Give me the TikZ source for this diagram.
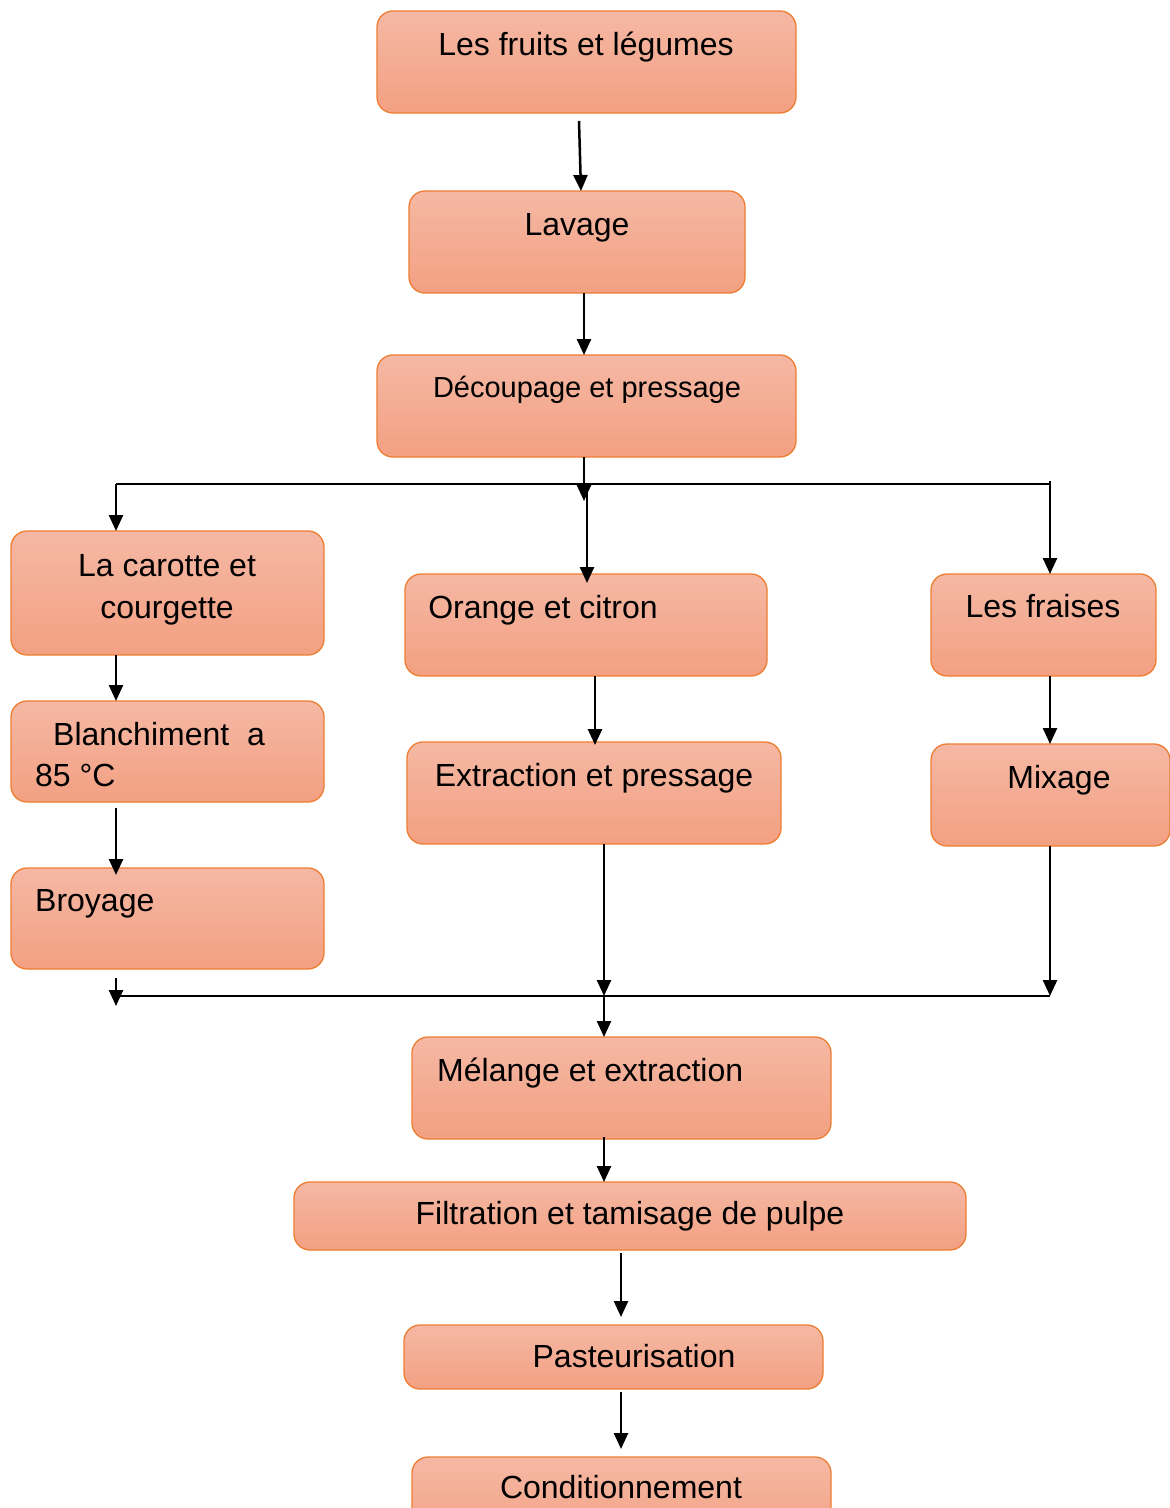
\documentclass[tikz,border=0pt]{standalone}
\usepackage{fontspec}
\setmainfont{Liberation Sans}
\usetikzlibrary{arrows.meta,calc}
\definecolor{ftop}{RGB}{245,184,164}
\definecolor{fbot}{RGB}{243,160,130}
\definecolor{boxline}{RGB}{237,125,49}
\tikzset{
  box/.style={draw=boxline, line width=1.3pt, rounded corners=16pt, top color=ftop, bottom color=fbot, inner sep=0pt, outer sep=0pt},
  txt/.style={font=\fontsize{32}{38}\selectfont, inner sep=0pt, anchor=base},
  txtl/.style={txt, anchor=base west},
  ln/.style={line width=2.5pt, black},
  arr/.style={ln, -{Triangle[width=14pt,length=16pt]}}
}
\begin{document}
\begin{tikzpicture}[x=1pt,y=-1pt]
\useasboundingbox (0,0) rectangle (1170,1508);
\clip (0,0) rectangle (1170,1508);
\fill[white] (0,0) rectangle (1170,1508);

% boxes
\node[box, minimum width=419pt, minimum height=102pt] (b1) at (586.5,62) {};
\node[box, minimum width=336pt, minimum height=102pt] (b2) at (577,242) {};
\node[box, minimum width=419pt, minimum height=102pt] (b3) at (586.5,406) {};
\node[box, minimum width=313pt, minimum height=124pt] (b4) at (167.5,593) {};
\node[box, minimum width=362pt, minimum height=102pt] (b5) at (586,625) {};
\node[box, minimum width=225pt, minimum height=102pt] (b6) at (1043.5,625) {};
\node[box, minimum width=313pt, minimum height=101pt] (b7) at (167.5,751.5) {};
\node[box, minimum width=374pt, minimum height=102pt] (b8) at (594,793) {};
\node[box, minimum width=239pt, minimum height=102pt] (b9) at (1050.5,795) {};
\node[box, minimum width=313pt, minimum height=101pt] (b10) at (167.5,918.5) {};
\node[box, minimum width=419pt, minimum height=102pt] (b11) at (621.5,1088) {};
\node[box, minimum width=672pt, minimum height=68pt] (b12) at (630,1216) {};
\node[box, minimum width=419pt, minimum height=64pt] (b13) at (613.5,1357) {};
\node[box, minimum width=419pt, minimum height=90pt] (b14) at (621.5,1502) {};

% texts
\node[txt] (t1) at (586,55) {Les fruits et légumes};
\node[txt] (t2) at (577,235) {Lavage};
\node[txt, font=\fontsize{29}{35}\selectfont] (t3) at (587,397) {Découpage et pressage};
\node[txt] (t4a) at (167,576) {La carotte et};
\node[txt] (t4b) at (167,618) {courgette};
\node[txt] (t5) at (543,618) {Orange et citron};
\node[txt] (t6) at (1043,617) {Les fraises};
\node[txtl] (t7a) at (53,745) {Blanchiment\ \ a};
\node[txtl] (t7b) at (35,786) {85 °C};
\node[txt] (t8) at (594,786) {Extraction et pressage};
\node[txt] (t9) at (1059,788) {Mixage};
\node[txtl] (t10) at (35,911) {Broyage};
\node[txtl] (t11) at (437,1081) {Mélange et extraction};
\node[txt] (t12) at (630,1224) {Filtration et tamisage de pulpe};
\node[txt] (t13) at (634,1367) {Pasteurisation};
\node[txt] (t14) at (621,1498) {Conditionnement};

% junction coordinates
\coordinate (jL) at (116,484);
\coordinate (jR) at (1050,484);
\coordinate (jM) at (587,487);
\coordinate (m1) at (584,501);
\coordinate (c58) at (595,0);
\coordinate (c8) at (604,0);
\coordinate (c12) at (621,0);
\coordinate (kL) at (116,996);
\coordinate (kR) at (1050,996);
\coordinate (kM) at (604,996);
\coordinate (k10) at (116,1006);

% connectors
\draw[arr] ([xshift=-7.5pt,yshift=-8pt]b1.south) -- ([xshift=4pt]b2.north);
\draw[arr] ([xshift=7pt]b2.south) -- ([xshift=7pt]b2.south |- b3.north);
\draw[arr] ([xshift=-2.5pt]b3.south) -- (m1);
\draw[ln] (jL) -- (jR);
\draw[ln] ($(jR)+(0,-3)$) -- (jR);
\draw[arr] (jL) -- (jL |- b4.north);
\draw[arr] (jM) -- ($(jM |- b5.north)+(0,9)$);
\draw[arr] ($(jR)+(0,-3)$) -- (jR |- b6.north);
\draw[arr] (jL |- b4.south) -- (jL |- b7.north);
\draw[arr] ($(jL |- b7.south)+(0,6)$) -- ($(jL |- b10.north)+(0,7)$);
\draw[arr] (c58 |- b5.south) -- ($(c58 |- b8.north)+(0,3)$);
\draw[arr] (jR |- b6.south) -- (jR |- b9.north);
\draw[arr] ($(jL |- b10.south)+(0,9)$) -- (k10);
\draw[ln] (kL) -- (kR);
\draw[arr] (c8 |- b8.south) -- (kM);
\draw[arr] (jR |- b9.south) -- (kR);
\draw[arr] (kM) -- (kM |- b11.north);
\draw[arr] ($(c8 |- b11.south)+(0,-2)$) -- (c8 |- b12.north);
\draw[arr] ($(c12 |- b12.south)+(0,3)$) -- ($(c12 |- b13.north)+(0,-8)$);
\draw[arr] ($(c12 |- b13.south)+(0,3)$) -- ($(c12 |- b14.north)+(0,-8)$);
\end{tikzpicture}
\end{document}
